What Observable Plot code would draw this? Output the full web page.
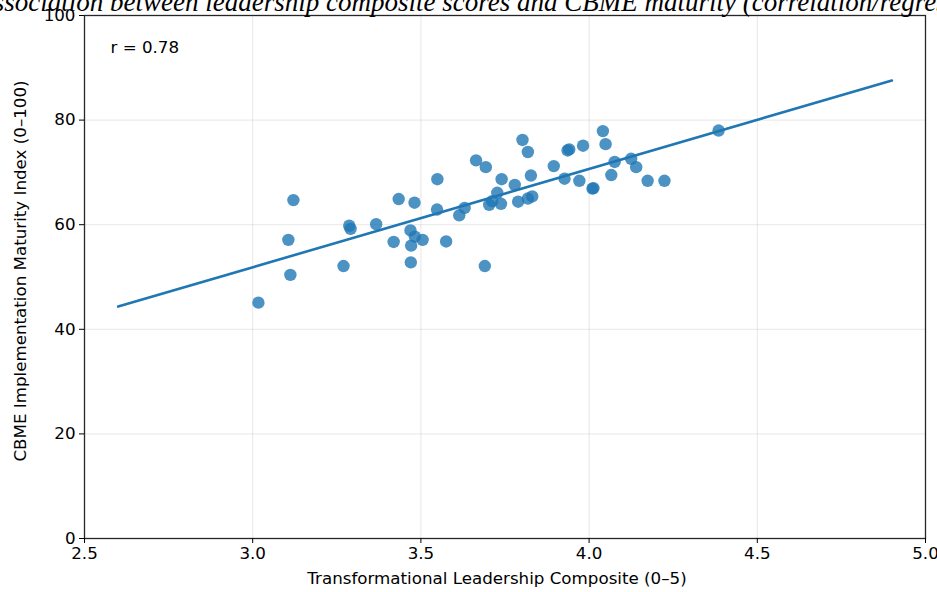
<!DOCTYPE html>
<html>
<head>
<meta charset="utf-8">
<script src="https://cdn.jsdelivr.net/npm/d3@7"></script>
<script src="https://cdn.jsdelivr.net/npm/@observablehq/plot@0.6"></script>
<style>
  html, body { margin: 0; padding: 0; background: #fff; }
  #wrap { position: relative; width: 937px; height: 592px; overflow: hidden; }
  #title {
    position: absolute; top: -11px; left: 489px; transform: translateX(-50%);
    white-space: nowrap; font: italic 27px "Liberation Serif", "Times New Roman", serif;
    line-height: 1; color: #000; z-index: 2;
  }
  #chart { position: absolute; left: 0; top: 0; }
</style>
</head>
<body>
<div id="wrap">
  <div id="title">Association between leadership composite scores and CBME maturity (correlation/regression)</div>
  <div id="chart"></div>
</div>
<script>
// Transformational leadership composite (0–5) per programme
const leadership = [
  3.017, 3.106, 3.112, 3.121, 3.270, 3.287, 3.291, 3.367, 3.419, 3.434,
  3.481, 3.469, 3.482, 3.471, 3.505, 3.470, 3.549, 3.548, 3.575, 3.614,
  3.630, 3.664, 3.693, 3.690, 3.703, 3.712, 3.727, 3.738, 3.740, 3.779,
  3.789, 3.802, 3.818, 3.818, 3.831, 3.827, 3.895, 3.927, 3.936, 3.941,
  3.971, 3.982, 4.010, 4.013, 4.041, 4.049, 4.066, 4.076, 4.125, 4.140,
  4.174, 4.224, 4.385
];
// CBME implementation maturity index (0–100) per programme
const maturity = [
  45.1, 57.1, 50.4, 64.7, 52.1, 59.8, 59.2, 60.1, 56.7, 64.9,
  64.2, 58.9, 57.7, 56.0, 57.1, 52.8, 68.7, 62.9, 56.8, 61.8,
  63.2, 72.3, 71.0, 52.1, 63.8, 64.5, 66.1, 64.0, 68.7, 67.6,
  64.4, 76.2, 73.9, 65.0, 65.4, 69.4, 71.2, 68.8, 74.2, 74.4,
  68.4, 75.1, 66.9, 67.0, 77.9, 75.4, 69.5, 72.0, 72.6, 71.0,
  68.4, 68.4, 78.0
];
const xTicks = [2.5, 3.0, 3.5, 4.0, 4.5, 5.0];
const yTicks = [0, 20, 40, 60, 80, 100];
const fitRange = [2.6, 4.9];
const rLabel = "r = 0.78";
const xLabel = "Transformational Leadership Composite (0–5)";
const yLabel = "CBME Implementation Maturity Index (0–100)";

const points = leadership.map((x, i) => ({x, y: maturity[i]}));

// Ordinary least-squares fit of maturity on leadership
const mx = d3.mean(leadership), my = d3.mean(maturity);
const sxy = d3.sum(points, p => (p.x - mx) * (p.y - my));
const sxx = d3.sum(points, p => (p.x - mx) ** 2);
const slope = sxy / sxx;
const intercept = my - slope * mx;
const fitLine = fitRange.map(x => ({x, y: intercept + slope * x}));

const blue = "#1f77b4";

const chart = Plot.plot({
  width: 937,
  height: 592,
  marginTop: 15,
  marginRight: 12,
  marginBottom: 54,
  marginLeft: 84,
  style: {fontFamily: "'DejaVu Sans', sans-serif", fontSize: "16.7px", color: "#000", background: "transparent"},
  x: {domain: [2.5, 5.0]},
  y: {domain: [0, 100]},
  marks: [
    Plot.gridX(xTicks, {stroke: "#b0b0b0", strokeOpacity: 0.3, strokeWidth: 1}),
    Plot.gridY(yTicks, {stroke: "#b0b0b0", strokeOpacity: 0.3, strokeWidth: 1}),
    Plot.dot(points, {x: "x", y: "y", r: 6.2, fill: blue, fillOpacity: 0.8, stroke: null}),
    Plot.line(fitLine, {x: "x", y: "y", stroke: blue, strokeWidth: 2.6}),
    Plot.frame({stroke: "#262626", strokeWidth: 1.3}),
    Plot.axisX(xTicks, {tickFormat: d3.format(".1f"), tickSize: 5, tickPadding: 4, label: null}),
    Plot.axisY(yTicks, {tickFormat: d3.format("d"), tickSize: 5, tickPadding: 4, label: null}),
    Plot.text([xLabel], {frameAnchor: "bottom", dx: -8, dy: 45, fontSize: 16.7, fill: "#000"}),
    Plot.text([yLabel], {frameAnchor: "left", dx: -64, dy: -6, rotate: -90, textAnchor: "middle", fontSize: 16.7, fill: "#000"}),
    Plot.text([rLabel], {frameAnchor: "top-left", dx: 26, dy: 26, lineAnchor: "top", textAnchor: "start", fontSize: 16.7, fill: "#000"})
  ]
});
document.getElementById("chart").appendChild(chart);
</script>
</body>
</html>
